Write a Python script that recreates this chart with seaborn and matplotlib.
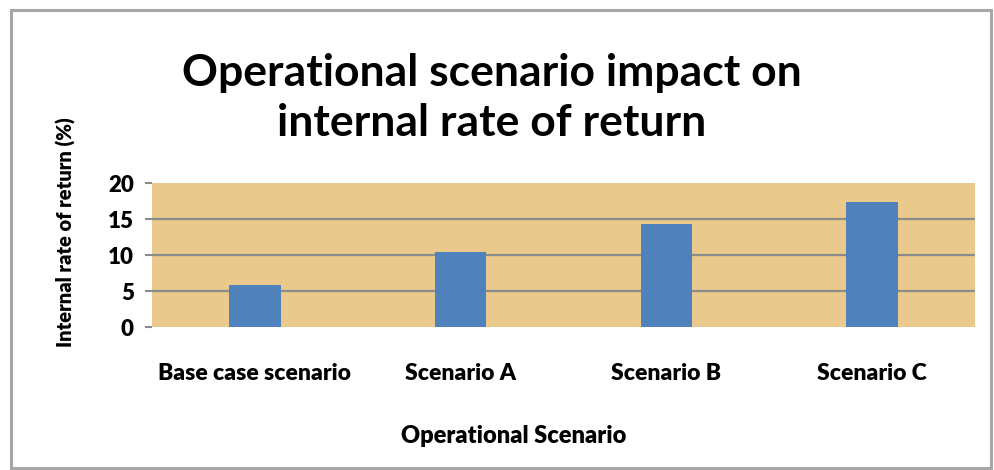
import matplotlib
matplotlib.use("Agg")
import matplotlib.pyplot as plt
import seaborn as sns
import pandas as pd
from matplotlib.patches import Rectangle

categories = ["Base case scenario", "Scenario A", "Scenario B", "Scenario C"]
irr_values = [5.8, 10.4, 14.3, 17.3]
y_ticks = [0, 5, 10, 15, 20]

df = pd.DataFrame({"scenario": categories, "irr": irr_values})

sns.set_theme(style="white")
plt.rcParams["font.family"] = ["Lato", "DejaVu Sans"]
plt.rcParams["text.color"] = "black"
plt.rcParams["axes.labelcolor"] = "black"
plt.rcParams["xtick.color"] = "black"
plt.rcParams["ytick.color"] = "black"

fig = plt.figure(figsize=(9.94, 4.70), dpi=100)
fig.patch.set_facecolor("white")
fig.patches.append(Rectangle((11 / 994, 2 / 470), 980 / 994, 458 / 470,
                             transform=fig.transFigure, fill=False,
                             edgecolor="#a6a6a6", linewidth=2.2))

ax = fig.add_axes([152 / 994, (470 - 327) / 470, 823 / 994, 144 / 470])
ax.set_facecolor("#e9c98c")
sns.barplot(data=df, x="scenario", y="irr", color="#4f81bd", width=0.25,
            saturation=1, linewidth=0, ax=ax, zorder=3)
ax.set_xlim(-0.5, 3.5)
ax.set_ylim(0, 20)
ax.set_yticks(y_ticks)
ax.set_yticklabels([str(t) for t in y_ticks], fontsize=16, fontweight="heavy")
for yv in y_ticks[1:-1]:
    ax.axhline(yv, color="#8c8c8c", linewidth=1.6, zorder=1)
for s in ax.spines.values():
    s.set_visible(False)
ax.tick_params(axis="y", left=True, length=5, width=1.5, color="#8c8c8c", pad=8)
ax.tick_params(axis="x", bottom=False, pad=20)
for lab in ax.get_xticklabels():
    lab.set_fontsize(16.5)
    lab.set_fontweight("heavy")
ax.set_xlabel("Operational Scenario", fontsize=17, fontweight="heavy")
ax.xaxis.set_label_coords(0.44, -0.68)
ax.set_ylabel("Internal rate of return (%)", fontsize=14.5, fontweight="heavy")
ax.yaxis.set_label_coords(-0.092, 0.66)

fig.text(0.495, 0.845, "Operational scenario impact on", ha="center", va="center",
         fontsize=32, fontweight="bold")
fig.text(0.495, 0.738, "internal rate of return", ha="center", va="center",
         fontsize=32, fontweight="bold")

fig.savefig("out.png", dpi=100)
